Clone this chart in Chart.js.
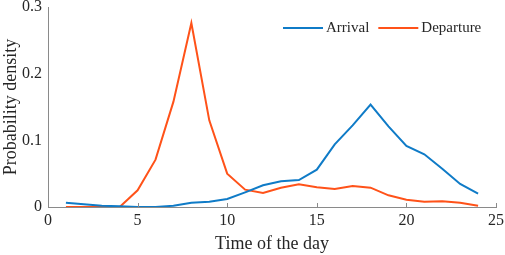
<!DOCTYPE html>
<html>
<head>
<meta charset="utf-8">
<script src="https://cdn.jsdelivr.net/npm/chart.js@4/dist/chart.umd.min.js"></script>
<style>
  html, body { margin: 0; padding: 0; background: #fff; }
  #wrap { width: 505px; height: 255px; }
</style>
</head>
<body>
<div id="wrap"><canvas id="chart"></canvas></div>
<script>
const hours = [1, 2, 3, 4, 5, 6, 7, 8, 9, 10, 11, 12, 13, 14, 15, 16, 17, 18, 19, 20, 21, 22, 23, 24];
const arrival = [0.0065, 0.004, 0.002, 0.001, 0.0, 0.0, 0.002, 0.0065, 0.008, 0.012, 0.022, 0.0325, 0.0385, 0.0405, 0.056, 0.094, 0.1225, 0.1535, 0.121, 0.0915, 0.079, 0.0575, 0.0345, 0.02];
const departure = [0.0, 0.0, 0.0, 0.0, 0.025, 0.071, 0.158, 0.276, 0.13, 0.05, 0.026, 0.021, 0.029, 0.034, 0.0295, 0.027, 0.0315, 0.029, 0.0175, 0.011, 0.008, 0.0085, 0.0065, 0.002];
const seriesNames = ['Arrival', 'Departure'];
const xTicks = [0, 5, 10, 15, 20, 25];
const yTicks = [0, 0.1, 0.2, 0.3];

const FONT = "'Liberation Serif', serif";
const AXIS = '#8a8a8a';
const TEXT = '#262626';
const BLUE = '#0f7bc7';
const ORANGE = '#ff5219';

Chart.defaults.font.family = FONT;

const toPoints = (vals) => vals.map((v, i) => ({ x: hours[i], y: v }));

// inward tick marks on the x axis, like the original plot
const innerTicks = {
  id: 'innerTicks',
  afterDraw(chart) {
    const ctx = chart.ctx;
    const xs = chart.scales.x;
    const bottom = chart.chartArea.bottom;
    ctx.save();
    ctx.strokeStyle = AXIS;
    ctx.lineWidth = 1;
    xTicks.forEach(t => {
      const px = Math.round(xs.getPixelForValue(t)) + 0.5;
      ctx.beginPath();
      ctx.moveTo(px, bottom);
      ctx.lineTo(px, bottom - 4);
      ctx.stroke();
    });
    ctx.restore();
  }
};

// legend sits inside the plot at the top right
const innerLegend = {
  id: 'innerLegend',
  afterDraw(chart) {
    const ctx = chart.ctx;
    const y = 28;
    let x = 283;
    ctx.save();
    ctx.font = '15px ' + FONT;
    ctx.textBaseline = 'middle';
    chart.data.datasets.forEach(ds => {
      ctx.strokeStyle = ds.borderColor;
      ctx.lineWidth = 2;
      ctx.beginPath();
      ctx.moveTo(x, y);
      ctx.lineTo(x + 40, y);
      ctx.stroke();
      ctx.fillStyle = TEXT;
      ctx.fillText(ds.label, x + 43, y);
      x += 43 + ctx.measureText(ds.label).width + 9;
    });
    ctx.restore();
  }
};

new Chart(document.getElementById('chart'), {
  type: 'line',
  data: {
    datasets: [
      { label: seriesNames[0], data: toPoints(arrival), borderColor: BLUE, borderWidth: 2, pointRadius: 0, tension: 0, fill: false },
      { label: seriesNames[1], data: toPoints(departure), borderColor: ORANGE, borderWidth: 2, pointRadius: 0, tension: 0, fill: false }
    ]
  },
  options: {
    responsive: true,
    maintainAspectRatio: false,
    animation: false,
    layout: { padding: { top: 7, right: 9, left: 0, bottom: 0 } },
    plugins: {
      legend: { display: false },
      tooltip: { enabled: false }
    },
    scales: {
      x: {
        type: 'linear',
        min: 0,
        max: 25,
        afterBuildTicks: (s) => { s.ticks = xTicks.map(v => ({ value: v })); },
        ticks: { color: TEXT, font: { family: FONT, size: 16 }, padding: 4, maxRotation: 0 },
        grid: { display: false, drawTicks: false },
        border: { display: true, color: AXIS, width: 1 },
        title: { display: true, text: 'Time of the day', color: TEXT, font: { family: FONT, size: 18 }, padding: { top: 0, bottom: 0 } },
        afterFit: (s) => { s.height = 48; s.paddingLeft = 0; s.paddingRight = 0; }
      },
      y: {
        min: 0,
        max: 0.3,
        afterBuildTicks: (s) => { s.ticks = yTicks.map(v => ({ value: v })); },
        ticks: { color: TEXT, font: { family: FONT, size: 16 }, padding: 6, callback: (v) => String(Math.round(v * 10) / 10) },
        grid: { display: false, drawTicks: false },
        border: { display: true, color: AXIS, width: 1 },
        title: { display: true, text: 'Probability density', color: TEXT, font: { family: FONT, size: 18 }, padding: { top: 0, bottom: 1 } },
        afterFit: (s) => { s.width = 48; s.paddingTop = 0; s.paddingBottom = 0; }
      }
    }
  },
  plugins: [innerTicks, innerLegend]
});
</script>
</body>
</html>
